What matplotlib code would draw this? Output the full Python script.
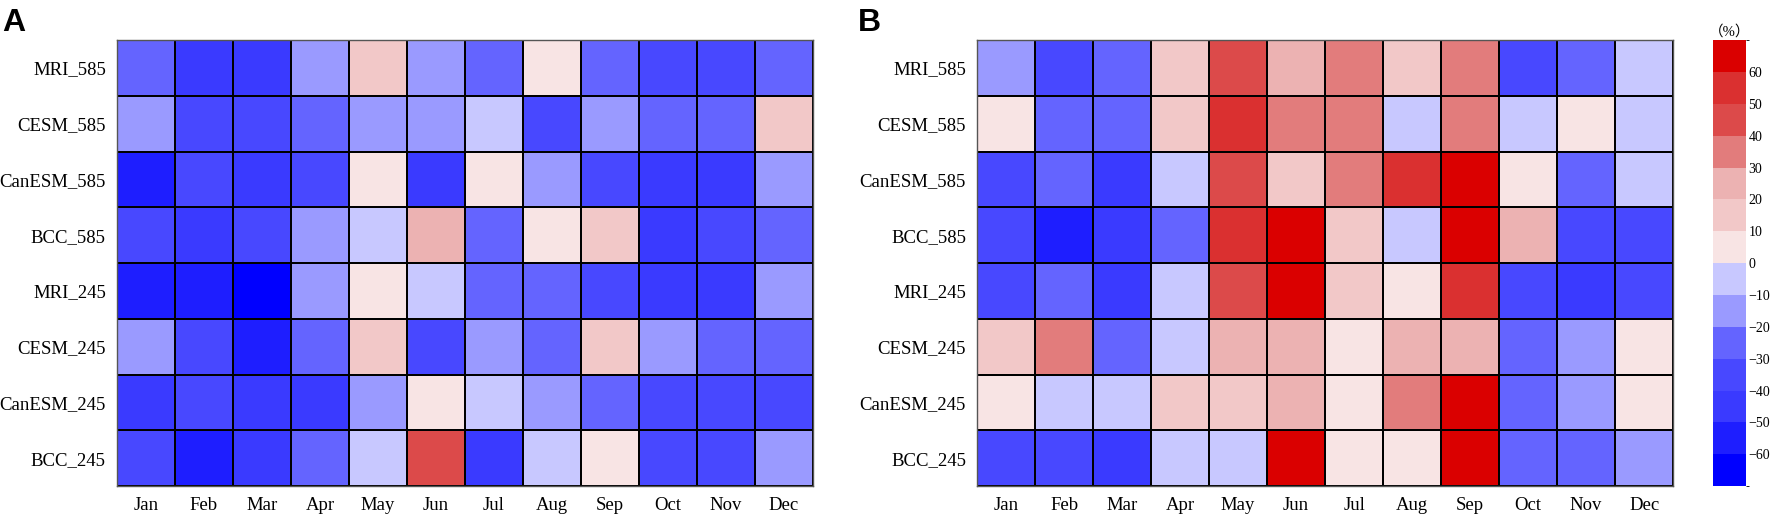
import numpy as np
import matplotlib
matplotlib.use('Agg')
import matplotlib.pyplot as plt
from matplotlib.colors import ListedColormap, BoundaryNorm

plt.rcParams['font.family'] = ['Liberation Serif', 'Noto Sans CJK SC', 'DejaVu Sans']

months = ['Jan', 'Feb', 'Mar', 'Apr', 'May', 'Jun', 'Jul', 'Aug', 'Sep', 'Oct', 'Nov', 'Dec']
models = ['MRI_585', 'CESM_585', 'CanESM_585', 'BCC_585',
          'MRI_245', 'CESM_245', 'CanESM_245', 'BCC_245']

# panel A (% change), rows top -> bottom
mri_585_a = [-25, -45, -45, -15, 15, -15, -25, 5, -25, -35, -35, -25]
cesm_585_a = [-15, -35, -35, -25, -15, -15, -5, -35, -15, -25, -25, 15]
canesm_585_a = [-55, -35, -45, -35, 5, -45, 5, -15, -35, -45, -45, -15]
bcc_585_a = [-35, -45, -35, -15, -5, 25, -25, 5, 15, -45, -35, -25]
mri_245_a = [-55, -55, -65, -15, 5, -5, -25, -25, -35, -45, -45, -15]
cesm_245_a = [-15, -35, -55, -25, 15, -35, -15, -25, 15, -15, -25, -25]
canesm_245_a = [-45, -35, -45, -45, -15, 5, -5, -15, -25, -35, -35, -35]
bcc_245_a = [-35, -55, -45, -25, -5, 40, -45, -5, 5, -35, -35, -15]

# panel B
mri_585_b = [-15, -35, -25, 15, 45, 25, 35, 15, 35, -35, -25, -5]
cesm_585_b = [5, -25, -25, 15, 55, 35, 35, -5, 35, -5, 5, -5]
canesm_585_b = [-35, -25, -45, -5, 45, 15, 35, 55, 65, 5, -25, -5]
bcc_585_b = [-35, -55, -45, -25, 55, 65, 15, -5, 65, 25, -35, -35]
mri_245_b = [-35, -25, -45, -5, 45, 65, 15, 5, 55, -35, -45, -35]
cesm_245_b = [15, 35, -25, -5, 25, 25, 5, 25, 25, -25, -15, 5]
canesm_245_b = [5, -5, -5, 15, 15, 25, 5, 35, 65, -25, -15, 5]
bcc_245_b = [-35, -35, -45, -5, -5, 65, 5, 5, 65, -25, -25, -15]

data_a = np.array([mri_585_a, cesm_585_a, canesm_585_a, bcc_585_a,
                   mri_245_a, cesm_245_a, canesm_245_a, bcc_245_a])
data_b = np.array([mri_585_b, cesm_585_b, canesm_585_b, bcc_585_b,
                   mri_245_b, cesm_245_b, canesm_245_b, bcc_245_b])

levels = np.arange(-70, 71, 10)
colors = ['#0000ff', '#1e1eff', '#3a3aff', '#4848ff', '#6464ff', '#9a9aff', '#c8c8ff',
          '#f8e4e4', '#f2c8c8', '#ecb2b2', '#e27c7c', '#dc4a4a', '#da3030', '#da0000']
cmap = ListedColormap(colors)
norm = BoundaryNorm(levels, cmap.N)

fig = plt.figure(figsize=(17.72, 5.16), dpi=100)
ax_a = fig.add_axes([0.066, 0.058, 0.3928, 0.8643])
ax_b = fig.add_axes([0.5514, 0.058, 0.3928, 0.8643])
cax = fig.add_axes([0.9667, 0.058, 0.0185, 0.8643])

for ax, d in [(ax_a, data_a), (ax_b, data_b)]:
    mesh = ax.pcolormesh(d, cmap=cmap, norm=norm, edgecolors='black', linewidth=1.2)
    ax.set_xlim(0, 12)
    ax.set_ylim(8, 0)
    ax.set_xticks(np.arange(12) + 0.5)
    ax.set_xticklabels(months, fontsize=13.5)
    ax.set_yticks(np.arange(8) + 0.5)
    ax.set_yticklabels(models, fontsize=13.5)
    ax.tick_params(length=0, pad=8)
    for s in ax.spines.values():
        s.set_color('#555555')
        s.set_linewidth(1)

fig.text(0.001, 0.985, 'A', fontsize=23, fontweight='bold', family='Liberation Sans', va='top')
fig.text(0.484, 0.985, 'B', fontsize=23, fontweight='bold', family='Liberation Sans', va='top')

cb = fig.colorbar(mesh, cax=cax, ticks=levels[1:-1])
cb.outline.set_visible(False)
cax.tick_params(length=0, labelsize=10, pad=2)
cax.set_title('（%）', fontsize=10.5, pad=3)

fig.savefig('out.png', dpi=100)
